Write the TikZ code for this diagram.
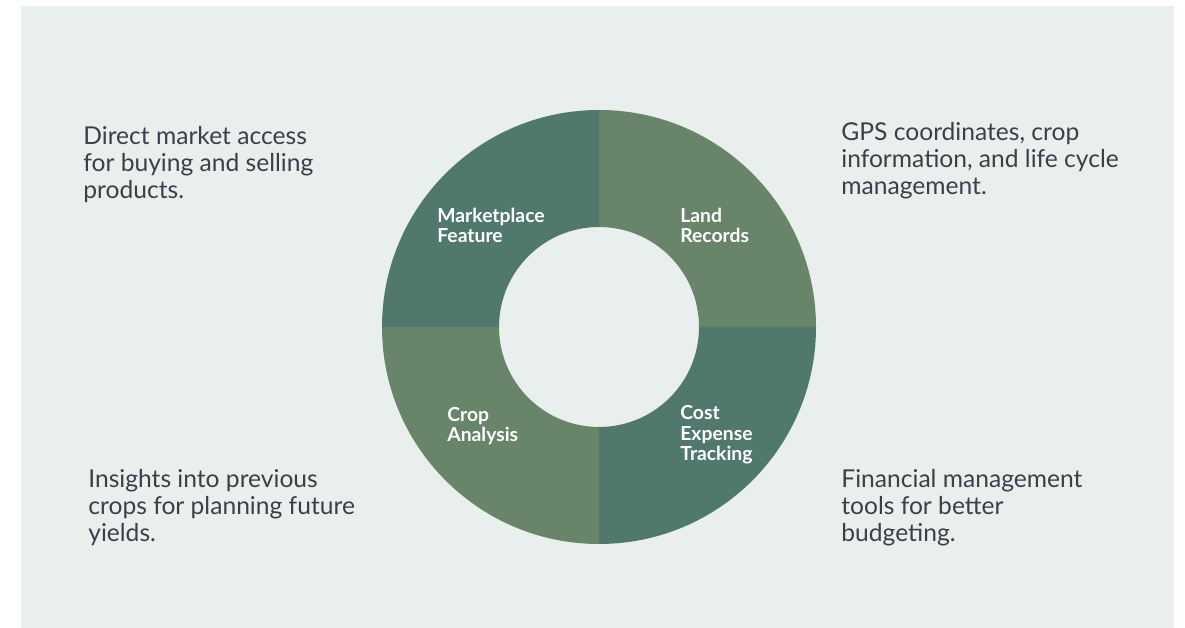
\documentclass[tikz,border=0pt]{standalone}
\usepackage{fontspec}
\setmainfont{Lato}
\usetikzlibrary{positioning}
\definecolor{panel_grey}{HTML}{E9EFED}
\definecolor{seg_dark}{HTML}{50786C}
\definecolor{seg_light}{HTML}{688469}
\definecolor{note_ink}{HTML}{3B3F4A}
\tikzset{
	note/.style={anchor=base west,inner sep=0pt,align=left,text=note_ink,
		font=\fontsize{14}{15.6}\selectfont},
	seglabel/.style={anchor=base west,inner sep=0pt,align=left,text=white,
		font=\fontsize{11}{11.9}\selectfont\bfseries}
}

\begin{document}
\begin{tikzpicture}[line join=round,line cap=round]
	\useasboundingbox (0,0) rectangle (23.7,12.56);
	\fill[panel_grey] (0.42,0) rectangle (23.48,12.44);
	\begin{scope}[shift={(11.98,6.02)}]
		\coordinate (ctr) at (0,0);
		\foreach\a/\c in {0/seg_light,90/seg_dark,180/seg_light,270/seg_dark}
		{
			\fill[\c] (\a:4.34) arc[start angle=\a,end angle=\a+90,radius=4.34]
				-- ({\a+90}:2) arc[start angle=\a+90,end angle=\a,radius=2] -- cycle;
		}
	\end{scope}
	% ring labels (placed at the baseline of their last line)
	\node[seglabel] (market) at (8.74,7.70) {Marketplace\\Feature};
	\node[seglabel] (land)   at (13.6,7.70) {Land\\Records};
	\node[seglabel] (cost)   at (13.6,3.34) {Cost\\Expense\\Tracking};
	\node[seglabel] (crop)   at (8.94,3.72) {Crop\\Analysis};
	% notes in the corners
	\node[note] (marketnote) at (1.66,8.58)  {Direct market access\\for buying and selling\\products.};
	\node[note] (landnote)   at (16.82,8.66) {GPS coordinates, crop\\information, and life cycle\\management.};
	\node[note] (cropnote)   at (1.76,1.72)  {Insights into previous\\crops for planning future\\yields.};
	\node[note] (costnote)   at (16.82,1.72) {Financial management\\tools for better\\budgeting.};
\end{tikzpicture}
\end{document}
